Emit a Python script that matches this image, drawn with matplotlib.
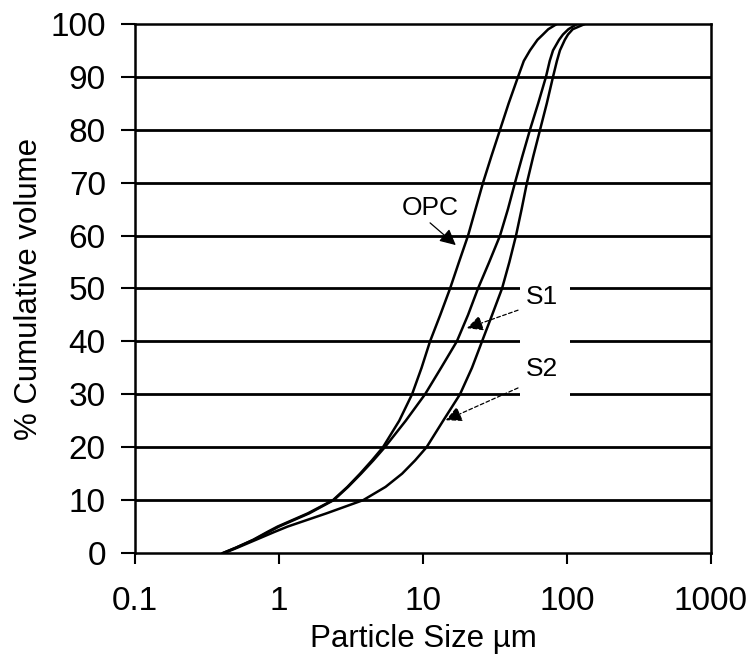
import matplotlib
matplotlib.use("Agg")
import matplotlib.pyplot as plt
from matplotlib.patches import Rectangle

plt.rcParams['font.family'] = ['Liberation Sans', 'DejaVu Sans']

# OPC: cumulative volume (%) vs particle size (um)
opc_cum = [0, 1, 2.5, 4, 5, 7.5, 10, 12.5, 15, 17.5, 20, 25, 30, 35, 40, 45, 50, 55, 60, 65,
           70, 75, 80, 85, 90, 93, 95, 97, 98, 99, 100]
opc_size = [0.408, 0.501, 0.661, 0.832, 0.977, 1.585, 2.371, 2.985, 3.656, 4.416, 5.272, 6.839,
            8.395, 9.772, 11.19, 13.18, 15.42, 17.78, 20.56, 23.17, 26.12, 29.85, 34.28, 39.36,
            45.71, 50.12, 55.34, 62.37, 68.08, 74.13, 85.11]

# S1
s1_cum = [0, 1, 2.5, 5, 7.5, 10, 12.5, 15, 17.5, 20, 25, 30, 35, 40, 45, 50, 55, 60, 65, 70,
          75, 80, 85, 90, 93, 95, 97, 98, 99, 100]
s1_size = [0.408, 0.501, 0.668, 1.0, 1.622, 2.399, 3.020, 3.715, 4.519, 5.433, 7.586, 10.33,
           13.35, 17.18, 20.55, 24.10, 28.84, 34.28, 38.90, 43.55, 48.98, 55.34, 63.10, 71.45,
           75.86, 79.98, 88.10, 93.76, 102.3, 117.5]

# S2
s2_cum = [0, 1, 2.5, 4, 5, 7.5, 10, 12.5, 15, 17.5, 20, 25, 30, 35, 40, 45, 50, 55, 60, 65,
          70, 75, 80, 85, 90, 93, 95, 97, 98, 99, 100]
s2_size = [0.417, 0.513, 0.692, 0.933, 1.148, 2.138, 3.846, 5.495, 7.161, 8.810, 10.59, 13.80,
           18.07, 21.88, 25.70, 30.20, 35.40, 39.81, 44.26, 48.42, 52.72, 58.34, 65.01, 72.44,
           79.98, 85.11, 89.33, 96.61, 101.6, 109.6, 133.4]

x_ticks = [0.1, 1, 10, 100, 1000]
x_tick_labels = ['0.1', '1', '10', '100', '1000']
y_ticks = list(range(0, 101, 10))

fig = plt.figure(figsize=(7.48, 6.54), dpi=100)
ax = fig.add_axes([0.1805, 0.1544, 0.770, 0.809])

ax.set_xscale('log')
ax.set_xlim(0.1, 1000)
ax.set_ylim(0, 100)

for yv in y_ticks[1:-1]:
    ax.axhline(yv, color='black', lw=2.0, zorder=1)

# white label background interrupting gridlines
ax.add_patch(Rectangle((47.2, 21), 105 - 47.2, 30, facecolor='white', edgecolor='none', zorder=1.5))

ax.plot(opc_size, opc_cum, color='black', lw=1.8, zorder=3)
ax.plot(s1_size, s1_cum, color='black', lw=1.8, zorder=3)
ax.plot(s2_size, s2_cum, color='black', lw=1.8, zorder=3)

ax.set_xticks(x_ticks)
ax.set_xticklabels(x_tick_labels)
ax.minorticks_off()
ax.set_yticks(y_ticks)
ax.tick_params(axis='x', direction='out', length=8, width=1.5, labelsize=24, pad=16)
ax.tick_params(axis='y', direction='out', length=10, width=1.5, labelsize=24, pad=11)
for s in ax.spines.values():
    s.set_linewidth(1.8)

ax.set_xlabel('Particle Size \u00b5m', fontsize=22.5)
ax.set_ylabel('% Cumulative volume', fontsize=22.5)
ax.xaxis.set_label_coords(0.5, -0.135)
ax.yaxis.set_label_coords(-0.158, 0.5)

# annotations
ax.text(11.2, 65.2, 'OPC', fontsize=19, ha='center', va='center', zorder=4)
ax.annotate('', xy=(16.9, 58.2), xytext=(11.2, 62.4),
            arrowprops=dict(arrowstyle='-|>', color='black', lw=0.9,
                            mutation_scale=24, shrinkA=0, shrinkB=0), zorder=4)
ax.text(67, 48.4, 'S1', fontsize=19, ha='center', va='center', zorder=4)
ax.annotate('', xy=(20.2, 42.5), xytext=(45.7, 45.9),
            arrowprops=dict(arrowstyle='-|>', color='black', lw=0.9, linestyle=(0, (3, 2)),
                            mutation_scale=24, shrinkA=0, shrinkB=0), zorder=4)
ax.text(67, 34.8, 'S2', fontsize=19, ha='center', va='center', zorder=4)
ax.annotate('', xy=(14.4, 25.1), xytext=(45.7, 31.2),
            arrowprops=dict(arrowstyle='-|>', color='black', lw=0.9, linestyle=(0, (3, 2)),
                            mutation_scale=24, shrinkA=0, shrinkB=0), zorder=4)

fig.savefig('out.png', dpi=100)
